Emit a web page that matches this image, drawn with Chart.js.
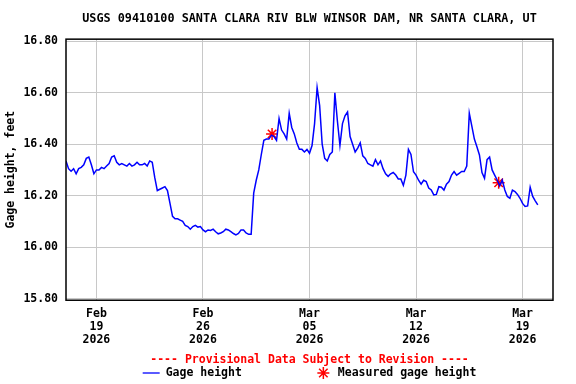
<!DOCTYPE html>
<html>
<head>
<meta charset="utf-8">
<script src="https://cdn.jsdelivr.net/npm/chart.js@4.4.1/dist/chart.umd.min.js"></script>
<style>
  html, body { margin: 0; padding: 0; background: #fff; }
</style>
</head>
<body>
<canvas id="gageChart" width="576" height="384"></canvas>
<script>
// gage height, feet, every 4 hours from Feb 17 2026 00:00
const stepHours = 4;
const gageHeight = [
  16.335, 16.305, 16.295, 16.305, 16.285, 16.305,   // Feb 17
  16.31, 16.32, 16.345, 16.35, 16.32, 16.285,       // Feb 18
  16.30, 16.30, 16.31, 16.305, 16.315, 16.325,      // Feb 19
  16.35, 16.355, 16.33, 16.32, 16.325, 16.32,       // Feb 20
  16.315, 16.325, 16.315, 16.32, 16.33, 16.32,      // Feb 21
  16.32, 16.325, 16.315, 16.335, 16.33, 16.27,      // Feb 22
  16.22, 16.225, 16.23, 16.235, 16.22, 16.17,       // Feb 23
  16.12, 16.11, 16.11, 16.105, 16.10, 16.085,       // Feb 24
  16.08, 16.07, 16.08, 16.085, 16.078, 16.08,       // Feb 25
  16.067, 16.06, 16.067, 16.065, 16.07, 16.06,      // Feb 26
  16.052, 16.055, 16.06, 16.07, 16.067, 16.06,      // Feb 27
  16.053, 16.048, 16.053, 16.067, 16.067, 16.055,   // Feb 28
  16.05, 16.05, 16.21, 16.26, 16.30, 16.36,         // Mar 01
  16.415, 16.42, 16.42, 16.435, 16.43, 16.415,      // Mar 02
  16.50, 16.455, 16.44, 16.42, 16.52, 16.465,       // Mar 03
  16.44, 16.405, 16.38, 16.38, 16.37, 16.38,        // Mar 04
  16.365, 16.395, 16.48, 16.62, 16.55, 16.40,       // Mar 05
  16.345, 16.335, 16.36, 16.37, 16.60, 16.49,       // Mar 06
  16.395, 16.48, 16.51, 16.525, 16.43, 16.40,       // Mar 07
  16.37, 16.385, 16.405, 16.355, 16.345, 16.325,    // Mar 08
  16.32, 16.315, 16.34, 16.32, 16.335, 16.305,      // Mar 09
  16.285, 16.275, 16.285, 16.29, 16.28, 16.265,     // Mar 10
  16.265, 16.24, 16.28, 16.38, 16.36, 16.293,       // Mar 11
  16.28, 16.26, 16.245, 16.26, 16.255, 16.23,       // Mar 12
  16.222, 16.203, 16.205, 16.235, 16.233, 16.222,   // Mar 13
  16.245, 16.255, 16.28, 16.294, 16.28, 16.287,     // Mar 14
  16.294, 16.294, 16.315, 16.52, 16.47, 16.42,      // Mar 15
  16.39, 16.358, 16.29, 16.268, 16.34, 16.35,       // Mar 16
  16.30, 16.28, 16.261, 16.238, 16.261, 16.222,     // Mar 17
  16.197, 16.19, 16.222, 16.216, 16.205, 16.19,     // Mar 18
  16.17, 16.158, 16.16, 16.233, 16.197, 16.18,      // Mar 19
  16.164
];

// field measurements (days since Feb 17 00:00)
const measuredDay = [13.54, 28.43];
const measuredHeight = [16.44, 16.25];

const tickDays = [2, 9, 16, 23, 30];
const tickLabels = [
  ['Feb', '19', '2026'],
  ['Feb', '26', '2026'],
  ['Mar', '05', '2026'],
  ['Mar', '12', '2026'],
  ['Mar', '19', '2026']
];
const yTicks = [15.8, 16.0, 16.2, 16.4, 16.6, 16.8];

const monoFont = 'DejaVu Sans Mono';
Chart.defaults.font.family = monoFont;
Chart.defaults.font.weight = 'bold';
Chart.defaults.font.size = 11.5;
Chart.defaults.color = '#000';

// black frame around the plot
const framePlugin = {
  id: 'frame',
  afterDraw(chart) {
    const a = chart.chartArea;
    const ctx = chart.ctx;
    ctx.save();
    ctx.strokeStyle = '#000';
    ctx.lineWidth = 1.5;
    ctx.strokeRect(a.left, a.top, a.right - a.left, a.bottom - a.top);
    ctx.restore();
  }
};

// bottom key, centred under the plot like the USGS one
const keyPlugin = {
  id: 'key',
  afterDraw(chart) {
    const ctx = chart.ctx;
    const a = chart.chartArea;
    const y = chart.height - 11;
    const sample = 17, gap = 6, between = 73;
    const sets = chart.data.datasets;
    ctx.save();
    ctx.font = 'bold 11.5px "' + monoFont + '"';
    ctx.textBaseline = 'middle';
    ctx.fillStyle = '#000';
    const w0 = ctx.measureText(sets[0].label).width;
    const w1 = ctx.measureText(sets[1].label).width;
    const total = sample + gap + w0 + between + sample + gap + w1;
    let x = (a.left + a.right) / 2 - total / 2;
    ctx.strokeStyle = sets[0].borderColor;
    ctx.lineWidth = 1.3;
    ctx.beginPath();
    ctx.moveTo(x, y);
    ctx.lineTo(x + sample, y);
    ctx.stroke();
    ctx.fillText(sets[0].label, x + sample + gap, y);
    x += sample + gap + w0 + between;
    ctx.strokeStyle = sets[1].borderColor;
    ctx.lineWidth = 1.5;
    Chart.helpers.drawPoint(ctx, {
      pointStyle: 'star', radius: 6, rotation: 0, borderWidth: 1.5
    }, x + sample / 2, y);
    ctx.fillText(sets[1].label, x + sample + gap, y);
    ctx.restore();
  }
};

const ctx = document.getElementById('gageChart').getContext('2d');
new Chart(ctx, {
  type: 'line',
  data: {
    datasets: [{
      label: 'Gage height',
      data: gageHeight.map((v, i) => ({x: i * stepHours / 24, y: v})),
      borderColor: '#0000ff',
      borderWidth: 1.5,
      pointRadius: 0,
      tension: 0,
      fill: false
    }, {
      label: 'Measured gage height',
      data: measuredDay.map((d, i) => ({x: d, y: measuredHeight[i]})),
      showLine: false,
      pointStyle: 'star',
      pointRadius: 6,
      borderColor: '#ff0000',
      borderWidth: 1.5
    }]
  },
  options: {
    responsive: false,
    animation: false,
    devicePixelRatio: 1,
    layout: { padding: { left: 0, right: 23, top: 0, bottom: 15 } },
    plugins: {
      legend: { display: false },
      tooltip: { enabled: false },
      title: {
        display: true,
        fullSize: false,
        text: 'USGS 09410100 SANTA CLARA RIV BLW WINSOR DAM, NR SANTA CLARA, UT',
        font: { size: 11.8, weight: 'bold' },
        color: '#000',
        padding: { top: 12, bottom: 13 }
      },
      subtitle: {
        display: true,
        position: 'bottom',
        fullSize: false,
        text: '---- Provisional Data Subject to Revision ----',
        color: '#ff0000',
        font: { size: 11.5, weight: 'bold' },
        padding: { top: 0, bottom: 2 }
      }
    },
    scales: {
      x: {
        type: 'linear',
        min: 0,
        max: 32,
        afterBuildTicks: axis => { axis.ticks = tickDays.map(v => ({value: v})); },
        ticks: {
          autoSkip: false,
          maxRotation: 0,
          padding: 7,
          font: { size: 11.5, weight: 'bold', lineHeight: 1.13 },
          callback: (value, index) => tickLabels[index]
        },
        grid: { color: '#c8c8c8', drawTicks: false },
        border: { display: false }
      },
      y: {
        min: 15.794,
        max: 16.808,
        afterBuildTicks: axis => { axis.ticks = yTicks.map(v => ({value: v})); },
        afterFit: axis => { axis.width = 66; },
        ticks: {
          autoSkip: false,
          padding: 8,
          callback: value => value.toFixed(2)
        },
        grid: { color: '#c8c8c8', drawTicks: false },
        border: { display: false },
        title: {
          display: true,
          text: 'Gage height, feet',
          font: { size: 11.5, weight: 'bold' },
          padding: { top: 4, bottom: 0 }
        }
      }
    }
  },
  plugins: [framePlugin, keyPlugin]
});
</script>
</body>
</html>
